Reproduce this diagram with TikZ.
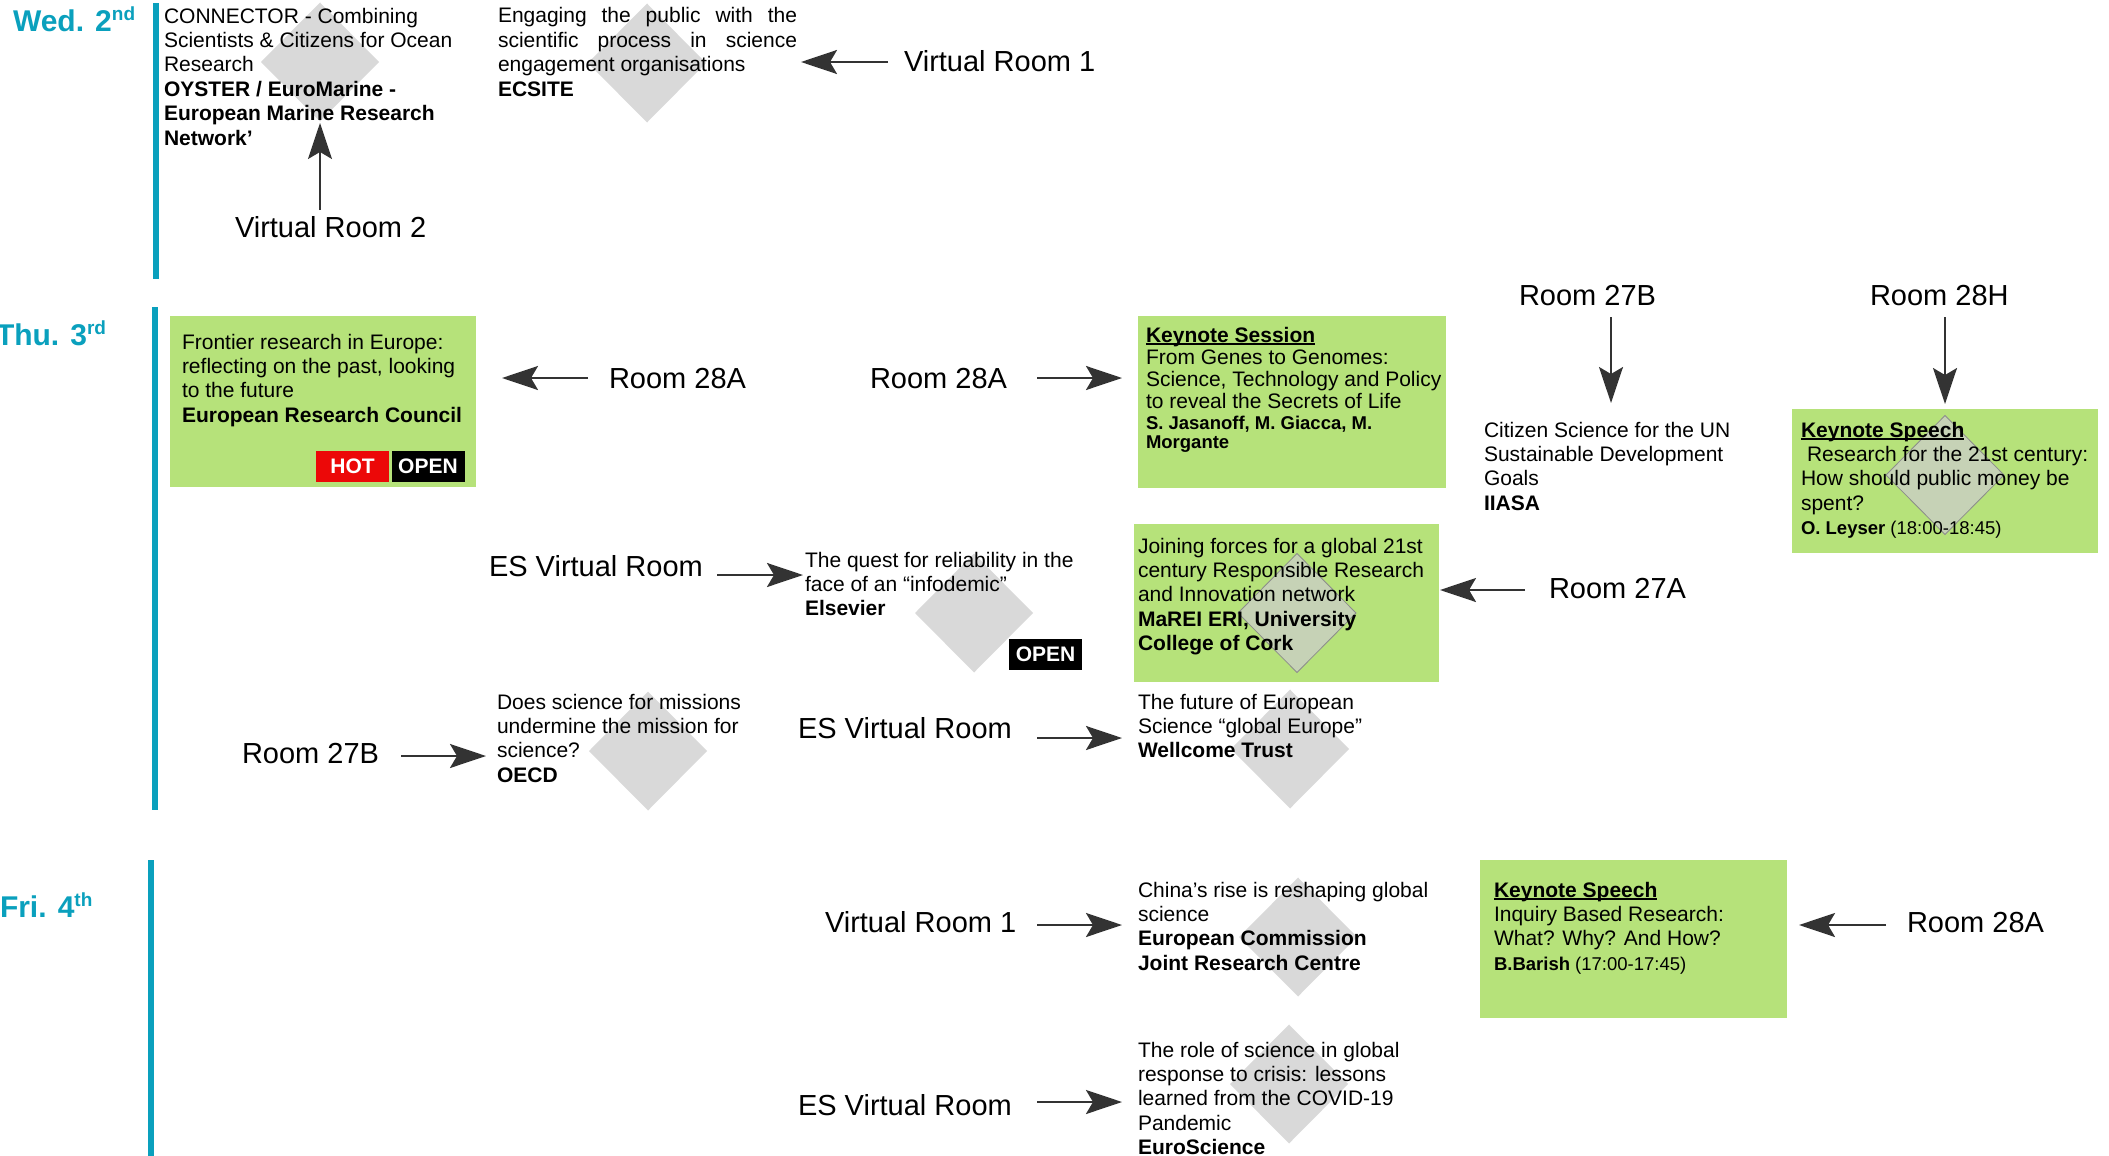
\documentclass[tikz,border=0pt]{standalone}
\usepackage{fontspec}
\setmainfont{Liberation Sans}
\usetikzlibrary{arrows.meta,shapes.geometric}
\definecolor{dayteal}{RGB}{10,160,189}
\definecolor{boxgreen}{RGB}{182,226,122}
\definecolor{dmdgray}{RGB}{217,217,217}
\definecolor{dmdgreen}{RGB}{198,210,182}
\definecolor{dmdedge}{RGB}{140,140,140}
\definecolor{arrgray}{RGB}{51,51,51}
\definecolor{hotred}{RGB}{236,8,8}
\newcommand{\kul}[1]{\setbox0=\hbox{\bfseries #1}\rlap{\rule[-2.5pt]{\wd0}{1.4pt}}\box0}
\newcommand{\dsup}[1]{\raisebox{11pt}{\fontsize{19}{20}\selectfont #1}}
\newcommand{\auth}{\fontsize{18.5}{24.4}\selectfont}
\begin{document}
\begin{tikzpicture}[x=1pt,y=-1pt,
  txt/.style={anchor=north west, inner sep=0, outer sep=0, align=left, font=\fontsize{21}{24.4}\selectfont},
  txtk/.style={txt, font=\fontsize{21}{22}\selectfont},
  room/.style={anchor=base west, inner sep=0, outer sep=0, font=\fontsize{29}{34}\selectfont},
  day/.style={anchor=base west, inner sep=0, outer sep=0, text=dayteal, font=\fontsize{30}{36}\selectfont\bfseries},
  daybar/.style={fill=dayteal},
  gbox/.style={fill=boxgreen},
  dmd/.style={diamond, fill=dmdgray, minimum width=118pt, minimum height=119pt, inner sep=0, outer sep=0},
  dmdg/.style={dmd, fill=dmdgreen, draw=dmdedge, line width=0.8pt},
  tag/.style={text=white, font=\fontsize{21}{24}\selectfont\bfseries, minimum width=73pt, minimum height=31pt, inner sep=0},
  arr/.style={draw=arrgray, line width=2.5pt, -{Stealth[length=36pt,width=24pt,inset=7pt]}},
  varr/.style={arr, line width=1.8pt}
]
\useasboundingbox (0,0) rectangle (2109,1156);

% ---- day bars
\fill[daybar] (153,3) rectangle (159,279);
\fill[daybar] (152,307) rectangle (158,810);
\fill[daybar] (148,860) rectangle (154,1156);

% ---- green boxes
\fill[gbox] (170,316) rectangle (476,487);
\fill[gbox] (1138,316) rectangle (1446,488);
\fill[gbox] (1792,409) rectangle (2098,553);
\fill[gbox] (1134,524) rectangle (1439,682);
\fill[gbox] (1480,860) rectangle (1787,1018);

% ---- diamonds
\node[dmd] (d1) at (320,62) {};
\node[dmd] (d2) at (647,63) {};
\node[dmd] (d3) at (974,613) {};
\node[dmdg] (d4) at (1297,613) {};
\node[dmdg] (d5) at (1945,475) {};
\node[dmd] (d6) at (648,751) {};
\node[dmd] (d7) at (1290,749) {};
\node[dmd] (d8) at (1298,937) {};
\node[dmd] (d9) at (1289,1084) {};

% ---- tags
\node[tag, fill=hotred] (hot) at (352.5,466) {HOT};
\node[tag, fill=black] (open1) at (428,466) {OPEN};
\node[tag, fill=black] (open2) at (1045.5,654.5) {OPEN};

% ---- day labels
\node[day] (wed) at (13,32) {Wed. 2\dsup{nd}};
\node[day] (thu) at (-4,345) {Thu. 3\dsup{rd}};
\node[day] (fri) at (0,917) {Fri. 4\dsup{th}};

% ---- Wednesday
\node[txt] (connector) at (164,5.92) {\strut CONNECTOR - Combining\\
Scientists \& Citizens for Ocean\\
Research\\
\textbf{OYSTER / EuroMarine -}\\
\textbf{European Marine Research}\\
\textbf{Network’}};
\node[txt] (ecsite) at (498,5.92) {\strut\hbox to 299pt{Engaging\hfill the\hfill public\hfill with\hfill the}\\
\hbox to 299pt{scientific\hfill process\hfill in\hfill science}\\
engagement organisations\\
\textbf{ECSITE}};
\node[room] (vr1w) at (904,71) {Virtual Room 1};
\node[room] (vr2w) at (235,237) {Virtual Room 2};

% ---- Thursday
\node[txt] (frontier) at (182,331.92) {\strut Frontier research in Europe:\\
reflecting on the past, looking\\
to the future\\
\textbf{European Research Council}};
\node[room] (r28a1) at (609,388) {Room 28A};
\node[room] (r28a2) at (870,388) {Room 28A};
\node[txtk] (keysess) at (1146,326.6) {\strut\kul{Keynote Session}\\
From Genes to Genomes:\\
Science, Technology and Policy\\
to reveal the Secrets of Life\\[-1pt]
{\auth\bfseries S. Jasanoff, M. Giacca, M.}\\[-3pt]
{\auth\bfseries Morgante}};
\node[room] (r27b1) at (1519,305) {Room 27B};
\node[room] (r28h) at (1870,305) {Room 28H};
\node[txt] (citizen) at (1484,419.92) {\strut Citizen Science for the UN\\
Sustainable Development\\
Goals\\
\textbf{IIASA}};
\node[txt] (keyspeech1) at (1801,419.92) {\strut\kul{Keynote Speech}\\
\hspace{6pt}Research for the 21st century:\\
How should public money be\\
spent?\\
{\auth\textbf{O. Leyser} (18:00-18:45)}};
\node[room] (esvr1) at (489,576) {ES Virtual Room};
\node[txt] (elsevier) at (805,549.92) {\strut The quest for reliability in the\\
face of an “infodemic”\\
\textbf{Elsevier}};
\node[txt] (joining) at (1138,535.92) {\strut Joining forces for a global 21st\\
century Responsible Research\\
and Innovation network\\
\textbf{MaREI ERI, University}\\
\textbf{College of Cork}};
\node[room] (r27a) at (1549,598) {Room 27A};
\node[room] (r27b2) at (242,763) {Room 27B};
\node[txt] (oecd) at (497,691.92) {\strut Does science for missions\\
undermine the mission for\\
science?\\
\textbf{OECD}};
\node[room] (esvr2) at (798,738) {ES Virtual Room};
\node[txt] (wellcome) at (1138,691.92) {\strut The future of European\\
Science “global Europe”\\
\textbf{Wellcome Trust}};

% ---- Friday
\node[room] (vr1f) at (825,932) {Virtual Room 1};
\node[txt] (china) at (1138,879.92) {\strut China’s rise is reshaping global\\
science\\
\textbf{European Commission}\\
\textbf{Joint Research Centre}};
\node[txt] (keyspeech2) at (1494,879.92) {\strut\kul{Keynote Speech}\\
Inquiry Based Research:\\
What? Why? And How?\\
{\auth\textbf{B.Barish} (17:00-17:45)}};
\node[room] (r28af) at (1907,932) {Room 28A};
\node[room] (esvr3) at (798,1115) {ES Virtual Room};
\node[txt] (role) at (1138,1039.92) {\strut The role of science in global\\
response to crisis: lessons\\
learned from the COVID-19\\
Pandemic\\
\textbf{EuroScience}};

% ---- arrow ends
\coordinate (a1s) at (888,62);   \coordinate (a1e) at (801,62);
\coordinate (a2s) at (320,210);  \coordinate (a2e) at (320,123);
\coordinate (a3s) at (588,378);  \coordinate (a3e) at (502,378);
\coordinate (a4s) at (1037,378); \coordinate (a4e) at (1122,378);
\coordinate (a5s) at (1611,317); \coordinate (a5e) at (1611,403);
\coordinate (a6s) at (1945,317); \coordinate (a6e) at (1945,404);
\coordinate (a7s) at (717,575);  \coordinate (a7e) at (803,575);
\coordinate (a8s) at (1525,590); \coordinate (a8e) at (1440,590);
\coordinate (a9s) at (401,756);  \coordinate (a9e) at (486,756);
\coordinate (a10s) at (1037,738); \coordinate (a10e) at (1122,738);
\coordinate (a11s) at (1037,925); \coordinate (a11e) at (1122,925);
\coordinate (a12s) at (1886,925); \coordinate (a12e) at (1799,925);
\coordinate (a13s) at (1037,1102); \coordinate (a13e) at (1122,1102);

\draw[arr] (a1s) -- (a1e);
\draw[varr] (a2s) -- (a2e);
\draw[arr] (a3s) -- (a3e);
\draw[arr] (a4s) -- (a4e);
\draw[varr] (a5s) -- (a5e);
\draw[varr] (a6s) -- (a6e);
\draw[arr] (a7s) -- (a7e);
\draw[arr] (a8s) -- (a8e);
\draw[arr] (a9s) -- (a9e);
\draw[arr] (a10s) -- (a10e);
\draw[arr] (a11s) -- (a11e);
\draw[arr] (a12s) -- (a12e);
\draw[arr] (a13s) -- (a13e);
\end{tikzpicture}
\end{document}
